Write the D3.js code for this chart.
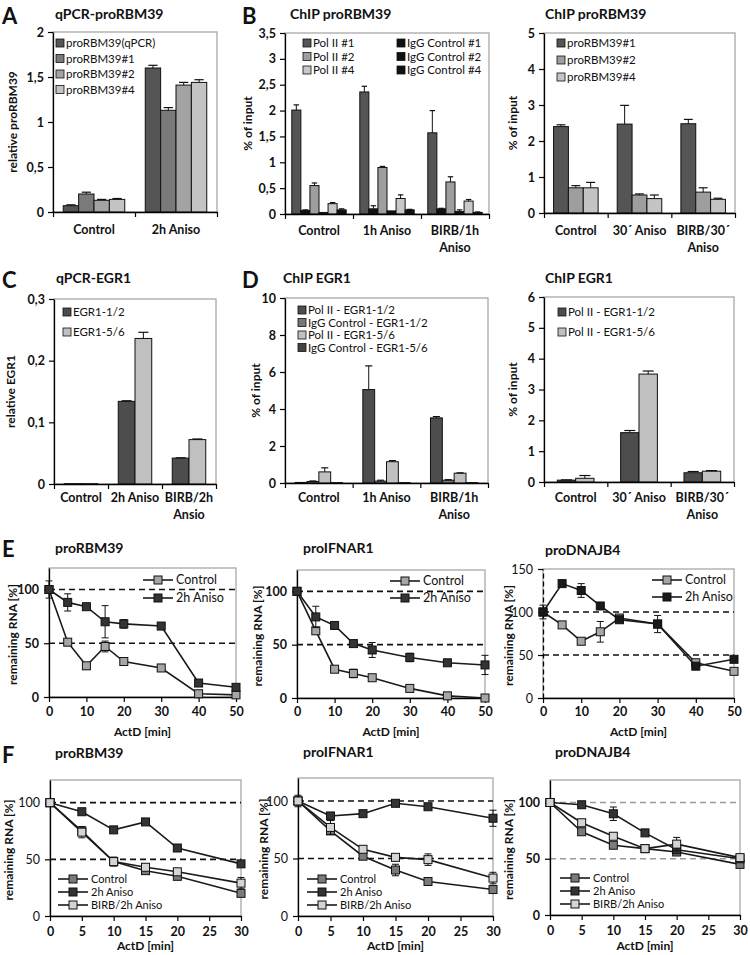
<!DOCTYPE html>
<html><head><meta charset="utf-8">
<script src="https://cdn.jsdelivr.net/npm/d3@7"></script>
<style>
body{margin:0;background:#fff}
text{font-family:Lato,"Open Sans",sans-serif;fill:#111}
</style></head>
<body><svg id="fig" width="750" height="955"></svg>
<script>
// ---------- DATA ----------
// Panel A
const aCategories = ["Control", "2h Aniso"];
const aSeries = ["proRBM39(qPCR)", "proRBM39#1", "proRBM39#2", "proRBM39#4"];
const aValues = [[0.07, 1.60], [0.20, 1.13], [0.13, 1.41], [0.14, 1.44]];
const aErrors = [[0.01, 0.03], [0.02, 0.03], [0.01, 0.03], [0.01, 0.03]];
const aTicks = [0, 0.5, 1, 1.5, 2];
const aTickLabels = ["0", "0,5", "1", "1,5", "2"];

// Panel B left
const b1Categories = ["Control", "1h Aniso", "BIRB/1h\nAniso"];
const b1Series = ["Pol II #1", "IgG Control #1", "Pol II #2", "IgG Control #2", "Pol II #4", "IgG Control #4"];
const b1Values = [[2.01, 2.36, 1.57], [0.07, 0.10, 0.10], [0.55, 0.90, 0.62], [0.03, 0.06, 0.05], [0.20, 0.30, 0.25], [0.08, 0.08, 0.03]];
const b1Errors = [[0.10, 0.11, 0.43], [0.01, 0.06, 0.01], [0.05, 0.02, 0.10], [0.0, 0.0, 0.03], [0.02, 0.07, 0.03], [0.02, 0.01, 0.01]];
const b1Ticks = [0, 0.5, 1, 1.5, 2, 2.5, 3, 3.5];
const b1TickLabels = ["0", "0,5", "1", "1,5", "2", "2,5", "3", "3,5"];

// Panel B right
const b2Categories = ["Control", "30´ Aniso", "BIRB/30´\nAniso"];
const b2Series = ["proRBM39#1", "proRBM39#2", "proRBM39#4"];
const b2Values = [[2.40, 2.47, 2.48], [0.70, 0.50, 0.58], [0.70, 0.40, 0.38]];
const b2Errors = [[0.05, 0.52, 0.12], [0.06, 0.03, 0.12], [0.15, 0.10, 0.03]];
const b2Ticks = [0, 1, 2, 3, 4, 5];
const b2TickLabels = ["0", "1", "2", "3", "4", "5"];

// Panel C
const cCategories = ["Control", "2h Aniso", "BIRB/2h\nAnsio"];
const cSeries = ["EGR1-1/2", "EGR1-5/6"];
const cValues = [[0.0005, 0.134, 0.042], [0.0005, 0.236, 0.072]];
const cErrors = [[0, 0.001, 0.0005], [0, 0.010, 0.001]];
const cTicks = [0, 0.1, 0.2, 0.3];
const cTickLabels = ["0", "0,1", "0,2", "0,3"];

// Panel D left
const d1Categories = ["Control", "1h Aniso", "BIRB/1h\nAniso"];
const d1Series = ["Pol II - EGR1-1/2", "IgG Control - EGR1-1/2", "Pol II - EGR1-5/6", "IgG Control - EGR1-5/6"];
const d1Values = [[0.03, 5.05, 3.52], [0.08, 0.10, 0.15], [0.60, 1.15, 0.53], [0.02, 0.02, 0.02]];
const d1Errors = [[0, 1.28, 0.07], [0.03, 0.05, 0.03], [0.22, 0.06, 0.02], [0, 0, 0]];
const d1Ticks = [0, 2, 4, 6, 8, 10];
const d1TickLabels = ["0", "2", "4", "6", "8", "10"];

// Panel D right
const d2Categories = ["Control", "30´ Aniso", "BIRB/30´\nAniso"];
const d2Series = ["Pol II - EGR1-1/2", "Pol II - EGR1-5/6"];
const d2Values = [[0.06, 1.60, 0.30], [0.12, 3.50, 0.35]];
const d2Errors = [[0.01, 0.07, 0.04], [0.09, 0.10, 0.02]];
const d2Ticks = [0, 1, 2, 3, 4, 5, 6];
const d2TickLabels = ["0", "1", "2", "3", "4", "5", "6"];

// Panel E (time courses, 0-50 min)
const eTimes = [0, 5, 10, 15, 20, 30, 40, 50];
const eXTicks = [0, 10, 20, 30, 40, 50];
const eSeries = ["Control", "2h Aniso"];
const e1Control = [100, 51, 29, 47, 33, 27, 3, 2];
const e1ControlErr = [0, 2, 3, 5, 2, 2, 1, 1];
const e1Aniso = [100, 88, 84, 70, 68, 66, 13, 9];
const e1AnisoErr = [8, 8, 2, 15, 4, 1, 1, 1];
const e2Control = [100, 63, 27, 23, 19, 9, 2, 0];
const e2ControlErr = [0, 2, 1, 4, 1, 1, 1, 0];
const e2Aniso = [100, 76, 68, 51, 45, 38, 33, 31];
const e2AnisoErr = [0, 10, 1, 2, 7, 4, 1, 9];
const e3Control = [100, 85, 66, 77, 93, 86, 41, 31];
const e3ControlErr = [0, 1, 1, 12, 2, 3, 1, 1];
const e3Aniso = [100, 133, 125, 107, 91, 86, 37, 45];
const e3AnisoErr = [8, 1, 8, 1, 2, 10, 1, 1];
const eYTicks120 = [0, 50, 100];
const eYTicks150 = [0, 50, 100, 150];

// Panel F (time courses, 0-30 min)
const fTimes = [0, 5, 10, 15, 20, 30];
const fXTicks = [0, 5, 10, 15, 20, 25, 30];
const fSeries = ["Control", "2h Aniso", "BIRB/2h Aniso"];
const f1Control = [100, 75, 48, 40, 35, 20];
const f1ControlErr = [0, 2, 2, 2, 1, 2];
const f1Aniso = [100, 92, 76, 83, 60, 46];
const f1AnisoErr = [0, 1, 1, 2, 1, 1];
const f1Birb = [100, 74, 48, 43, 39, 29];
const f1BirbErr = [1, 5, 4, 2, 1, 5];
const f2Control = [100, 74, 52, 40, 30, 23];
const f2ControlErr = [0, 2, 1, 5, 1, 1];
const f2Aniso = [100, 87, 89, 98, 95, 85];
const f2AnisoErr = [0, 1, 1, 1, 1, 7];
const f2Birb = [100, 77, 58, 51, 49, 33];
const f2BirbErr = [5, 6, 1, 1, 5, 5];
const f3Control = [100, 74, 62, 59, 56, 45];
const f3ControlErr = [0, 1, 1, 1, 1, 1];
const f3Aniso = [100, 98, 90, 73, 58, 50];
const f3AnisoErr = [0, 1, 6, 1, 1, 1];
const f3Birb = [100, 82, 70, 59, 63, 51];
const f3BirbErr = [0, 1, 1, 1, 6, 1];
const fYTicks = [0, 50, 100];

// ---------- DRAWING ----------
const svg = d3.select("#fig");

function txt(x, y, s, opt = {}) {
  return svg.append("text").attr("x", x).attr("y", y).text(s)
    .attr("font-size", opt.size || 12)
    .attr("font-weight", opt.bold ? "bold" : "normal")
    .attr("text-anchor", opt.anchor || "start")
    .attr("font-family", opt.family || null);
}
function letter(x, y, s) { txt(x, y, s, {size: 22, bold: true, family: "Liberation Sans, Arial, sans-serif"}); }
function vlabel(x, y, s) {
  svg.append("text").attr("transform", `translate(${x},${y}) rotate(-90)`)
    .attr("text-anchor", "middle").attr("font-size", 12).attr("font-weight", "bold").text(s);
}
function styleAxis(g, bold) {
  g.selectAll("path.domain").attr("stroke", "#000").attr("stroke-width", 1.3);
  g.selectAll(".tick line").attr("stroke", "#000").attr("stroke-width", 1.2);
  g.selectAll("text").attr("font-size", 12.5).attr("font-weight", bold ? "bold" : "normal")
    .attr("font-family", "Lato,'Open Sans',sans-serif").attr("fill", "#111");
}

function barChart(c) {
  const g = svg.append("g");
  const n = c.categories.length;
  const x = d3.scaleBand().domain(c.categories).range([c.x0, c.x1]);
  const xi = d3.scaleLinear().domain([0, n]).range([c.x0, c.x1]);
  const y = d3.scaleLinear().domain([0, c.yMax]).range([c.y1, c.y0]);
  const gw = x.bandwidth() * c.groupFrac;
  const inner = d3.scaleBand().domain(d3.range(c.series.length)).range([0, gw]);
  const off = (x.bandwidth() - gw) / 2;
  g.append("rect").attr("x", c.x0).attr("y", c.y0).attr("width", c.x1 - c.x0).attr("height", c.y1 - c.y0)
    .attr("fill", "none").attr("stroke", "#a8a8a8").attr("stroke-width", 1.3);
  const rows = c.series.map((s, si) => c.categories.map((cat, ci) => ({si, cat, v: c.values[si][ci], e: c.errors[si][ci]})));
  const flat = rows.flat();
  g.selectAll("rect.bar").data(flat).join("rect").attr("class", "bar")
    .attr("x", d => x(d.cat) + off + inner(d.si)).attr("width", inner.bandwidth())
    .attr("y", d => y(d.v)).attr("height", d => y(0) - y(d.v))
    .attr("fill", d => c.colors[d.si]).attr("stroke", "#111").attr("stroke-width", 1);
  const eb = flat.filter(d => d.e > 0);
  g.selectAll("line.err").data(eb).join("line").attr("class", "err")
    .attr("x1", d => x(d.cat) + off + inner(d.si) + inner.bandwidth() / 2)
    .attr("x2", d => x(d.cat) + off + inner(d.si) + inner.bandwidth() / 2)
    .attr("y1", d => y(d.v)).attr("y2", d => y(d.v + d.e)).attr("stroke", "#111").attr("stroke-width", 1);
  g.selectAll("line.cap").data(eb).join("line").attr("class", "cap")
    .attr("x1", d => x(d.cat) + off + inner(d.si) + inner.bandwidth() * 0.2)
    .attr("x2", d => x(d.cat) + off + inner(d.si) + inner.bandwidth() * 0.8)
    .attr("y1", d => y(d.v + d.e)).attr("y2", d => y(d.v + d.e)).attr("stroke", "#111").attr("stroke-width", 1.2);
  const ya = g.append("g").attr("transform", `translate(${c.x0},0)`)
    .call(d3.axisLeft(y).tickValues(c.yTicks).tickFormat((d, i) => c.yTickLabels[i]).tickSize(5).tickSizeOuter(0).tickPadding(4));
  styleAxis(ya, true);
  const xa = g.append("g").attr("transform", `translate(0,${c.y1})`)
    .call(d3.axisBottom(xi).tickValues(d3.range(n + 1)).tickFormat("").tickSize(5).tickSizeOuter(0));
  styleAxis(xa, true);
  c.categories.forEach(cat => {
    const parts = cat.split("\n");
    parts.forEach((p, k) => txt(x(cat) + x.bandwidth() / 2, c.y1 + c.labDy + k * 17, p, {bold: true, anchor: "middle", size: 12.5}));
  });
  // legend
  const L = c.legend;
  c.legendOrder.forEach((si, k) => {
    const col = Math.floor(k / L.perCol), row = k % L.perCol;
    const lx = L.x[col], ly = L.y + row * L.dy;
    g.append("rect").attr("x", lx).attr("y", ly - 4).attr("width", 8).attr("height", 8)
      .attr("fill", c.colors[si]).attr("stroke", "#111").attr("stroke-width", 0.8);
    g.append("text").attr("x", lx + 10).attr("y", ly + 4).attr("font-size", L.size || 11.5).text(c.series[si]);
  });
  txt(c.x0 + (c.titleDx || 2), c.y0 - c.titleDy, c.title, {bold: true, size: 14});
  vlabel(c.ylabX, (c.y0 + c.y1) / 2, c.ylabel);
}

function lineChart(c) {
  const g = svg.append("g");
  const x = d3.scaleLinear().domain([0, c.xMax]).range([c.x0, c.x1]);
  const y = d3.scaleLinear().domain([0, c.yMax]).range([c.y1, c.y0]);
  g.append("rect").attr("x", c.x0).attr("y", c.y0).attr("width", c.x1 - c.x0).attr("height", c.y1 - c.y0)
    .attr("fill", "none").attr("stroke", "#a8a8a8").attr("stroke-width", 1.3);
  c.refLines.forEach(v => g.append("line").attr("x1", x(0)).attr("x2", x(c.xMax)).attr("y1", y(v)).attr("y2", y(v))
    .attr("stroke", c.refColor).attr("stroke-width", 1.6).attr("stroke-dasharray", "6,4"));
  const ya = g.append("g").attr("transform", `translate(${c.x0},0)`)
    .call(d3.axisLeft(y).tickValues(c.yTicks).tickSize(5).tickSizeOuter(0).tickPadding(5));
  styleAxis(ya, c.yBold);
  if (c.yDashed) ya.select("path.domain").attr("stroke-dasharray", "5,3");
  const xa = g.append("g").attr("transform", `translate(0,${c.y1})`)
    .call(d3.axisBottom(x).tickValues(c.xTicks).tickSize(5).tickSizeOuter(0).tickPadding(c.xPad));
  styleAxis(xa, true);
  const line = d3.line().x((d, i) => x(c.times[i])).y(d => y(d));
  c.series.forEach(s => {
    const pts = s.vals.map((v, i) => ({t: c.times[i], v, e: s.errs[i]}));
    g.append("path").datum(s.vals).attr("d", line).attr("fill", "none").attr("stroke", "#1a1a1a").attr("stroke-width", 1.6);
    const eg = g.append("g");
    const ep = pts.filter(p => p.e >= 2);
    eg.selectAll("line.e").data(ep).join("line")
      .attr("x1", p => x(p.t)).attr("x2", p => x(p.t)).attr("y1", p => y(p.v - p.e)).attr("y2", p => y(p.v + p.e))
      .attr("stroke", "#111").attr("stroke-width", 1);
    eg.selectAll("line.c1").data(ep).join("line")
      .attr("x1", p => x(p.t) - 3.5).attr("x2", p => x(p.t) + 3.5).attr("y1", p => y(p.v + p.e)).attr("y2", p => y(p.v + p.e))
      .attr("stroke", "#111").attr("stroke-width", 1);
    eg.selectAll("line.c2").data(ep).join("line")
      .attr("x1", p => x(p.t) - 3.5).attr("x2", p => x(p.t) + 3.5).attr("y1", p => y(p.v - p.e)).attr("y2", p => y(p.v - p.e))
      .attr("stroke", "#111").attr("stroke-width", 1);
    g.selectAll(null).data(pts).join("rect")
      .attr("x", p => x(p.t) - 4).attr("y", p => y(p.v) - 4).attr("width", 8).attr("height", 8)
      .attr("fill", s.fill).attr("stroke", "#111").attr("stroke-width", 1);
  });
  const L = c.legend;
  c.series.forEach((s, k) => {
    const ly = L.y + k * L.dy;
    g.append("line").attr("x1", L.x).attr("x2", L.x + 30).attr("y1", ly).attr("y2", ly).attr("stroke", "#1a1a1a").attr("stroke-width", 1.6);
    g.append("rect").attr("x", L.x + 11).attr("y", ly - 4).attr("width", 8).attr("height", 8).attr("fill", s.fill).attr("stroke", "#111");
    g.append("text").attr("x", L.x + 33).attr("y", ly + 4).attr("font-size", L.size).text(s.name);
  });
  txt(c.titleX, c.titleY, c.title, {bold: true, size: 14});
  vlabel(c.ylabX, (c.y0 + c.y1) / 2 + 2, "remaining RNA [%]");
  txt((c.x0 + c.x1) / 2, c.xlabY, "ActD [min]", {bold: true, anchor: "middle"});
}

// Panel letters
letter(2, 24, "A"); letter(242, 24, "B"); letter(2, 288, "C"); letter(242, 288, "D");
letter(2, 557, "E"); letter(2, 763, "F");

barChart({x0: 53, x1: 217, y0: 32, y1: 212, yMax: 2, yTicks: aTicks, yTickLabels: aTickLabels,
  categories: aCategories, series: aSeries, values: aValues, errors: aErrors, groupFrac: 0.75,
  colors: ["#555555", "#7a7a7a", "#a3a3a3", "#c4c4c4"], labDy: 22,
  legend: {x: [56], y: 43, dy: 15.5, perCol: 4, size: 11.5}, legendOrder: [0, 1, 2, 3],
  title: "qPCR-proRBM39", titleDy: 13, ylabel: "relative proRBM39", ylabX: 17});

barChart({x0: 285, x1: 489, y0: 33, y1: 214, yMax: 3.5, yTicks: b1Ticks, yTickLabels: b1TickLabels,
  categories: b1Categories, series: b1Series, values: b1Values, errors: b1Errors, groupFrac: 0.8,
  colors: ["#555555", "#111111", "#9e9e9e", "#111111", "#c8c8c8", "#111111"], labDy: 21,
  legend: {x: [303, 397], y: 43, dy: 13.5, perCol: 3, size: 11.5}, legendOrder: [0, 2, 4, 1, 3, 5],
  title: "ChIP proRBM39", titleDx: 5, titleDy: 14, ylabel: "% of input", ylabX: 252});

barChart({x0: 544, x1: 735, y0: 33, y1: 213, yMax: 5, yTicks: b2Ticks, yTickLabels: b2TickLabels,
  categories: b2Categories, series: b2Series, values: b2Values, errors: b2Errors, groupFrac: 0.7,
  colors: ["#555555", "#9e9e9e", "#c4c4c4"], labDy: 22,
  legend: {x: [557], y: 43, dy: 17, perCol: 3, size: 11.5}, legendOrder: [0, 1, 2],
  title: "ChIP proRBM39", titleDx: 1, titleDy: 14, ylabel: "% of input", ylabX: 517});

barChart({x0: 54, x1: 216, y0: 299, y1: 484, yMax: 0.3, yTicks: cTicks, yTickLabels: cTickLabels,
  categories: cCategories, series: cSeries, values: cValues, errors: cErrors, groupFrac: 0.62,
  colors: ["#4d4d4d", "#c0c0c0"], labDy: 18,
  legend: {x: [63], y: 312, dy: 20, perCol: 2, size: 11.5}, legendOrder: [0, 1],
  title: "qPCR-EGR1", titleDx: 2, titleDy: 16, ylabel: "relative EGR1", ylabX: 15});

barChart({x0: 285, x1: 488, y0: 298, y1: 483, yMax: 10, yTicks: d1Ticks, yTickLabels: d1TickLabels,
  categories: d1Categories, series: d1Series, values: d1Values, errors: d1Errors, groupFrac: 0.7,
  colors: ["#4d4d4d", "#777777", "#c0c0c0", "#444444"], labDy: 19,
  legend: {x: [298], y: 310, dy: 12.5, perCol: 4, size: 11.5}, legendOrder: [0, 1, 2, 3],
  title: "ChIP EGR1", titleDx: -2, titleDy: 15, ylabel: "% of input", ylabX: 260});

barChart({x0: 544, x1: 734, y0: 297, y1: 482, yMax: 6, yTicks: d2Ticks, yTickLabels: d2TickLabels,
  categories: d2Categories, series: d2Series, values: d2Values, errors: d2Errors, groupFrac: 0.58,
  colors: ["#4d4d4d", "#c0c0c0"], labDy: 20,
  legend: {x: [558], y: 312, dy: 20, perCol: 2, size: 11.5}, legendOrder: [0, 1],
  title: "ChIP EGR1", titleDx: 1, titleDy: 14, ylabel: "% of input", ylabX: 517});

// Panel E
lineChart({x0: 49, x1: 236, y0: 568, y1: 697, xMax: 50, yMax: 120, yTicks: eYTicks120, xTicks: eXTicks, times: eTimes,
  series: [{name: eSeries[0], vals: e1Control, errs: e1ControlErr, fill: "#a6a6a6"}, {name: eSeries[1], vals: e1Aniso, errs: e1AnisoErr, fill: "#333333"}],
  refLines: [100, 50], refColor: "#111", yBold: true, xPad: 5, legend: {x: 143, y: 580, dy: 18, size: 12.5},
  title: "proRBM39", titleX: 55, titleY: 553, ylabX: 17, xlabY: 736});
lineChart({x0: 297, x1: 485, y0: 570, y1: 698, xMax: 50, yMax: 120, yTicks: eYTicks120, xTicks: eXTicks, times: eTimes,
  series: [{name: eSeries[0], vals: e2Control, errs: e2ControlErr, fill: "#a6a6a6"}, {name: eSeries[1], vals: e2Aniso, errs: e2AnisoErr, fill: "#333333"}],
  refLines: [100, 50], refColor: "#111", yBold: true, xPad: 4, legend: {x: 390, y: 581, dy: 17, size: 12.5},
  title: "proIFNAR1", titleX: 303, titleY: 553, ylabX: 262, xlabY: 736});
lineChart({x0: 543, x1: 734, y0: 569, y1: 698, xMax: 50, yMax: 150, yTicks: eYTicks150, xTicks: eXTicks, times: eTimes,
  series: [{name: eSeries[0], vals: e3Control, errs: e3ControlErr, fill: "#a6a6a6"}, {name: eSeries[1], vals: e3Aniso, errs: e3AnisoErr, fill: "#1a1a1a"}],
  refLines: [100, 50], refColor: "#111", yBold: false, yDashed: true, xPad: 4, legend: {x: 652, y: 580, dy: 17, size: 12.5},
  title: "proDNAJB4", titleX: 545, titleY: 555, ylabX: 513, xlabY: 736});

// Panel F
lineChart({x0: 50, x1: 241, y0: 780, y1: 916, xMax: 30, yMax: 120, yTicks: fYTicks, xTicks: fXTicks, times: fTimes,
  series: [{name: fSeries[0], vals: f1Control, errs: f1ControlErr, fill: "#7a7a7a"}, {name: fSeries[1], vals: f1Aniso, errs: f1AnisoErr, fill: "#333333"}, {name: fSeries[2], vals: f1Birb, errs: f1BirbErr, fill: "#d4d4d4"}],
  refLines: [100, 50], refColor: "#111", yBold: false, xPad: 6, legend: {x: 58, y: 879, dy: 13, size: 11},
  title: "proRBM39", titleX: 55, titleY: 758, ylabX: 13, xlabY: 950});
lineChart({x0: 298, x1: 493, y0: 778, y1: 916, xMax: 30, yMax: 120, yTicks: fYTicks, xTicks: fXTicks, times: fTimes,
  series: [{name: fSeries[0], vals: f2Control, errs: f2ControlErr, fill: "#7a7a7a"}, {name: fSeries[1], vals: f2Aniso, errs: f2AnisoErr, fill: "#333333"}, {name: fSeries[2], vals: f2Birb, errs: f2BirbErr, fill: "#d4d4d4"}],
  refLines: [100, 50], refColor: "#111", yBold: false, xPad: 6, legend: {x: 307, y: 879, dy: 13, size: 11},
  title: "proIFNAR1", titleX: 303, titleY: 757, ylabX: 268, xlabY: 950});
lineChart({x0: 550, x1: 740, y0: 780, y1: 915, xMax: 30, yMax: 120, yTicks: fYTicks, xTicks: fXTicks, times: fTimes,
  series: [{name: fSeries[0], vals: f3Control, errs: f3ControlErr, fill: "#7a7a7a"}, {name: fSeries[1], vals: f3Aniso, errs: f3AnisoErr, fill: "#333333"}, {name: fSeries[2], vals: f3Birb, errs: f3BirbErr, fill: "#d4d4d4"}],
  refLines: [100, 50], refColor: "#999", yBold: true, xPad: 6, legend: {x: 560, y: 878, dy: 13, size: 11},
  title: "proDNAJB4", titleX: 555, titleY: 757, ylabX: 513, xlabY: 950});
</script>
</body></html>
